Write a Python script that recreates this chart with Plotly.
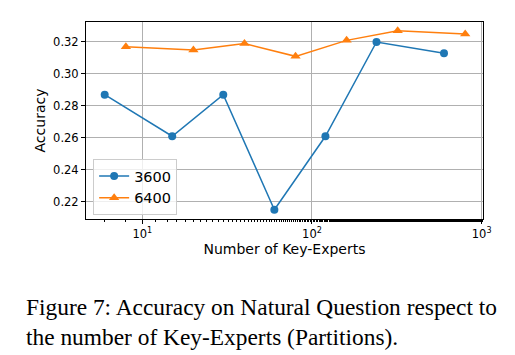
import plotly.graph_objects as go

x_3600 = [6, 15, 30, 60, 120, 240, 600]
acc_3600 = [0.287, 0.261, 0.287, 0.215, 0.261, 0.320, 0.313]
x_6400 = [8, 20, 40, 80, 160, 320, 800]
acc_6400 = [0.317, 0.315, 0.319, 0.311, 0.321, 0.327, 0.325]
y_ticks = [0.22, 0.24, 0.26, 0.28, 0.30, 0.32]
x_ticks = [10, 100, 1000]
x_ticktext = ["10<sup>1</sup>", "10<sup>2</sup>", "10<sup>3</sup>"]

fig = go.Figure()
fig.add_trace(go.Scatter(x=x_3600, y=acc_3600, name="3600", mode="lines+markers",
                         line=dict(color="#1f77b4", width=1.5),
                         marker=dict(symbol="circle", size=8, color="#1f77b4")))
fig.add_trace(go.Scatter(x=x_6400, y=acc_6400, name="6400", mode="lines+markers",
                         line=dict(color="#ff7f0e", width=1.5),
                         marker=dict(symbol="triangle-up", size=9, color="#ff7f0e")))

font_sans = "DejaVu Sans"
# the page body adds an 8px offset, so the figure is drawn 8px smaller
fig.update_layout(
    width=507, height=347,
    margin=dict(l=78, r=32, t=14, b=136),
    plot_bgcolor="white", paper_bgcolor="white",
    font=dict(family=font_sans, size=11, color="black"),
    showlegend=True,
    legend=dict(x=0.018, y=0.02, xanchor="left", yanchor="bottom",
                bgcolor="rgba(255,255,255,0.8)", bordercolor="#cccccc", borderwidth=1,
                font=dict(size=14.5, family=font_sans), tracegroupgap=0),
    xaxis=dict(type="log", range=[0.668, 3.008],
               tickvals=x_ticks, ticktext=x_ticktext,
               ticks="outside", ticklen=4, tickcolor="black",
               minor=dict(ticks="outside", ticklen=2, tickcolor="black", showgrid=False),
               showgrid=True, gridcolor="#b0b0b0", gridwidth=1,
               showline=True, linecolor="black", linewidth=1, mirror=True,
               zeroline=False,
               title=dict(text="Number of Key-Experts", font=dict(size=14), standoff=4),
               tickfont=dict(size=11.5)),
    yaxis=dict(range=[0.2092, 0.3325], tickvals=y_ticks,
               tickformat=".2f",
               ticks="outside", ticklen=4, tickcolor="black",
               showgrid=True, gridcolor="#b0b0b0", gridwidth=1,
               showline=True, linecolor="black", linewidth=1, mirror=True,
               zeroline=False,
               title=dict(text="Accuracy", font=dict(size=14), standoff=4),
               tickfont=dict(size=11.5)),
    annotations=[dict(
        text="Figure 7: Accuracy on Natural Question respect to<br>the number of Key-Experts (Partitions).",
        xref="paper", yref="paper", x=-0.156, y=-0.37, xanchor="left", yanchor="top",
        align="left", showarrow=False,
        font=dict(family="Liberation Serif", size=23.4, color="black"))],
)

fig.write_html("out.html")
